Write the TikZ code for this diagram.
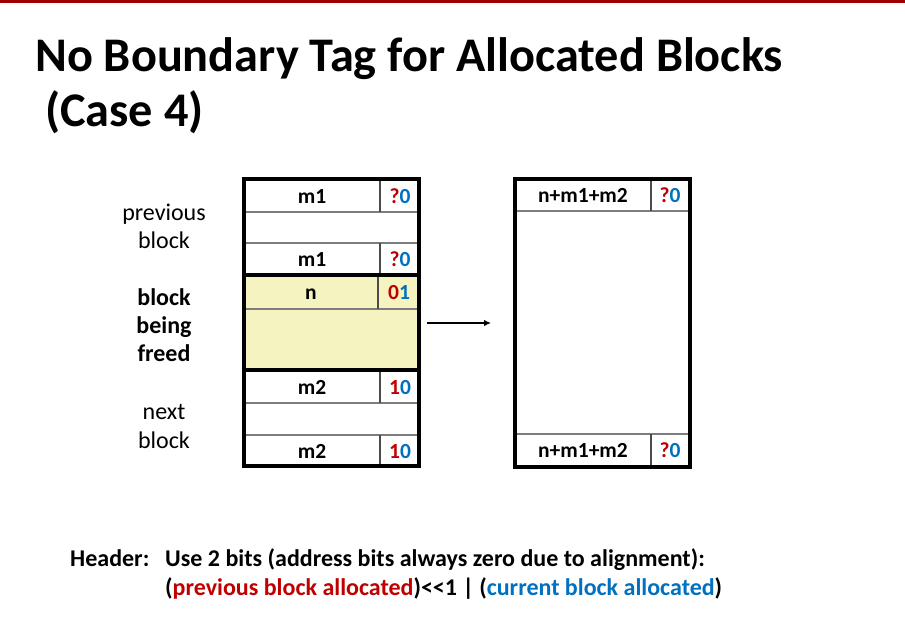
\documentclass[tikz,border=0pt]{standalone}
\usepackage{fontspec}
\setmainfont{Carlito}
\usetikzlibrary{arrows.meta}
\definecolor{barred}{RGB}{160,0,0}
\definecolor{bitred}{RGB}{192,0,0}
\definecolor{bitblue}{RGB}{0,112,192}
\definecolor{freefill}{RGB}{245,243,192}
\definecolor{cellgray}{RGB}{125,125,125}
\newcommand\bitpair[2]{\textcolor{bitred}{#1}\textcolor{bitblue}{#2}}
\begin{document}
\begin{tikzpicture}[x=1pt,y=-1pt,
  celltext/.style={inner sep=0pt,anchor=base,font=\fontsize{21.5}{25}\selectfont\bfseries},
  sidelabel/.style={inner sep=0pt,anchor=base,font=\fontsize{24}{28}\selectfont},
  sidebold/.style={sidelabel,font=\fontsize{24}{28}\selectfont\bfseries},
  outline/.style={line width=4pt},
  thinrule/.style={line width=1.2pt,draw=cellgray},
  divider/.style={line width=1.2pt,draw=black!70},
  caption/.style={inner sep=0pt,anchor=base west,font=\fontsize{24}{29}\selectfont\bfseries},
  titletext/.style={inner sep=0pt,anchor=base west,font=\fontsize{48.3}{55}\selectfont\bfseries}]
\useasboundingbox (0,0) rectangle (905,642);
% top rule
\fill[barred] (0,0) rectangle (905,3);

% title
\node[titletext] (title1) at (35,71) {No Boundary Tag for Allocated Blocks};
\node[titletext] (title2) at (45,126) {(Case 4)};

% ---- left heap picture: previous / freed / next ----
\fill[freefill] (244,275) rectangle (419,370);
\draw[thinrule] (244,212) -- (419,212);
\draw[thinrule] (244,243) -- (419,243);
\draw[thinrule] (244,309) -- (419,309);
\draw[thinrule] (244,403) -- (419,403);
\draw[thinrule] (244,435) -- (419,435);
\draw[divider] (380,179) -- (380,212);
\draw[divider] (380,243) -- (380,275);
\draw[divider] (378,275) -- (378,309);
\draw[divider] (380,370) -- (380,403);
\draw[divider] (380,435) -- (380,466);
\draw[outline] (244,275) -- (419,275);
\draw[outline] (244,370) -- (419,370);
\draw[outline] (244,179) rectangle (419,466);

\node[celltext] (m1top) at (312,203) {m1};
\node[celltext] (m1topbits) at (400,203) {\bitpair{?}{0}};
\node[celltext] (m1bot) at (312,266) {m1};
\node[celltext] (m1botbits) at (400,266) {\bitpair{?}{0}};
\node[celltext] (nhdr) at (311,299) {n};
\node[celltext] (nhdrbits) at (399,299) {\bitpair{0}{1}};
\node[celltext] (m2top) at (312,394) {m2};
\node[celltext] (m2topbits) at (400,394) {\bitpair{1}{0}};
\node[celltext] (m2bot) at (312,458) {m2};
\node[celltext] (m2botbits) at (400,458) {\bitpair{1}{0}};

% side labels
\node[sidelabel] (prev1) at (164,220) {previous};
\node[sidelabel] (prev2) at (164,248) {block};
\node[sidebold] (free1) at (164,305) {block};
\node[sidebold] (free2) at (164,333) {being};
\node[sidebold] (free3) at (164,361) {freed};
\node[sidelabel] (next1) at (164,419) {next};
\node[sidelabel] (next2) at (164,448) {block};

% ---- right heap picture: coalesced block ----
\draw[thinrule] (515,211) -- (690,211);
\draw[thinrule] (515,434) -- (690,434);
\draw[divider] (651,179) -- (651,211);
\draw[divider] (651,434) -- (651,467);
\draw[outline] (515,179) rectangle (690,467);
\node[celltext] (sumtop) at (583,202) {n+m1+m2};
\node[celltext] (sumtopbits) at (670,202) {\bitpair{?}{0}};
\node[celltext] (sumbot) at (583,457) {n+m1+m2};
\node[celltext] (sumbotbits) at (670,457) {\bitpair{?}{0}};

% transition arrow
\coordinate (arrowfrom) at (427,323);
\coordinate (arrowto) at (491,323);
\draw[line width=1.8pt,-{Latex[length=7pt,width=6.5pt]}] (arrowfrom) -- (arrowto);

% header encoding note
\node[caption] (hdrkey) at (70,566) {Header:};
\node[caption] (hdrline1) at (165,566) {Use 2 bits (address bits always zero due to alignment):};
\node[caption] (hdrline2) at (165,595) {(\textcolor{bitred}{previous block allocated})<{}<1 | (\textcolor{bitblue}{current block allocated})};
\end{tikzpicture}
\end{document}
